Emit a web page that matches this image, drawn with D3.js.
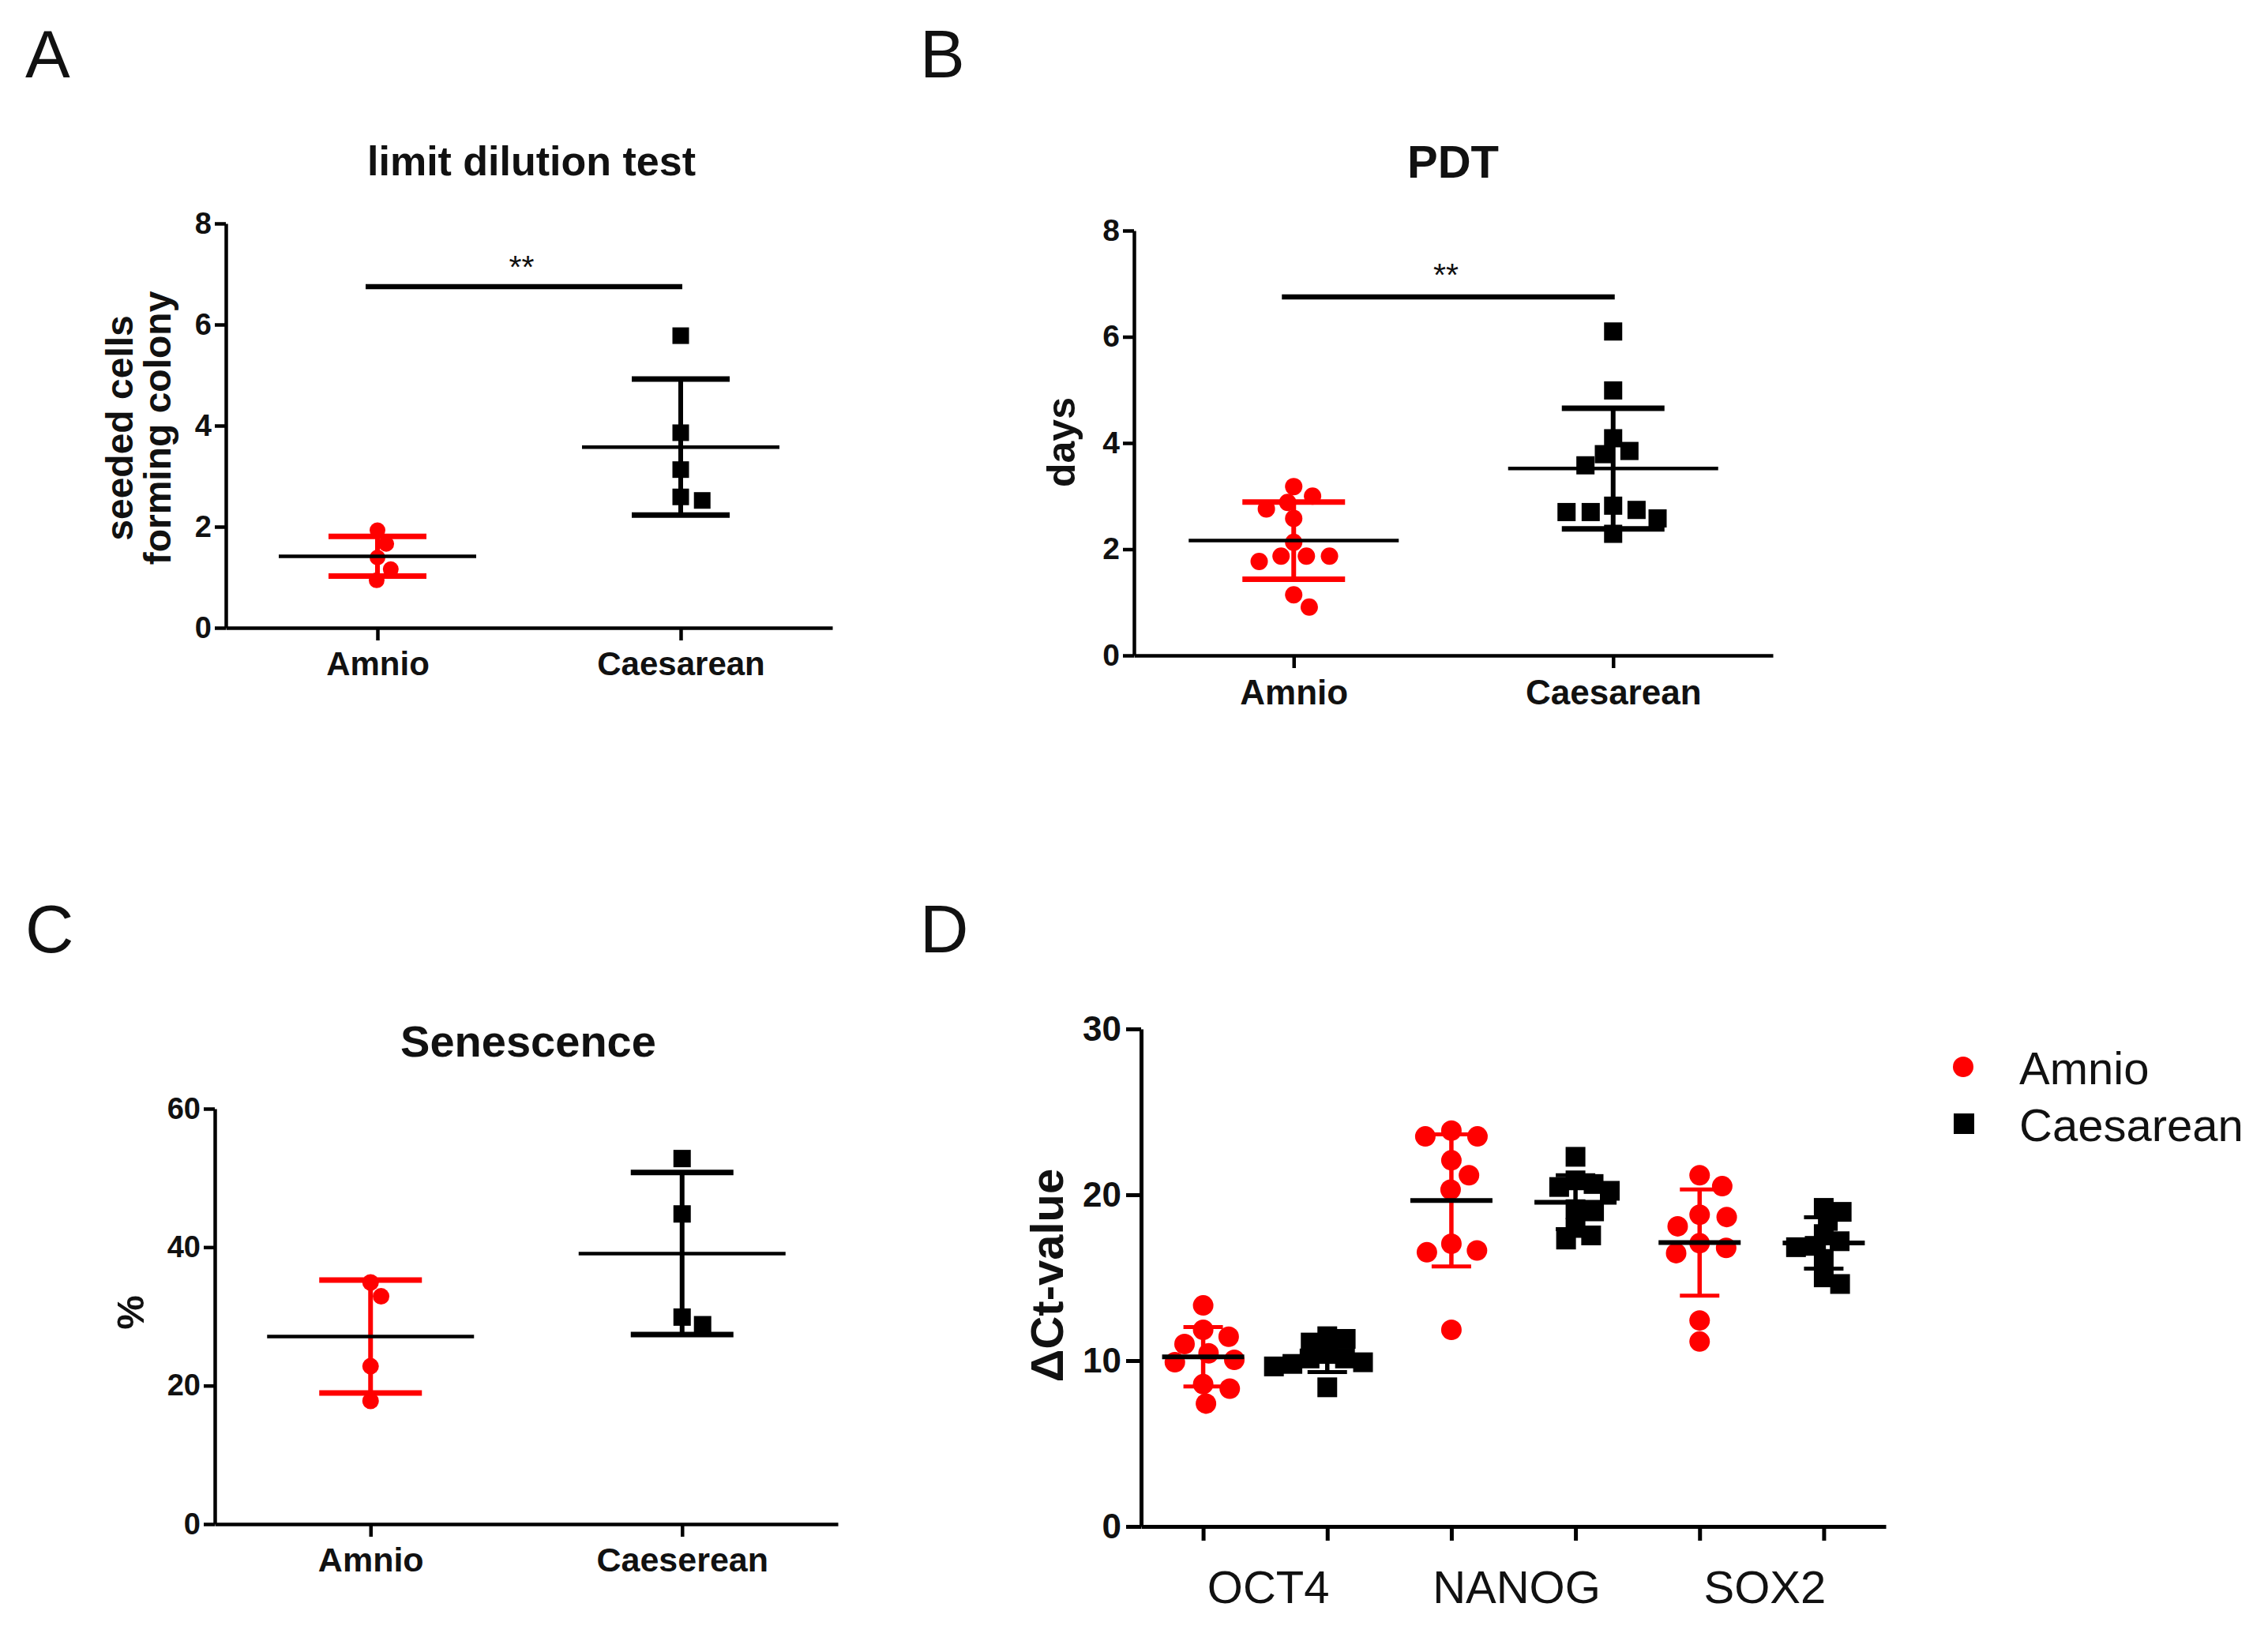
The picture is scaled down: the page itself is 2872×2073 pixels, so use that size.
<!DOCTYPE html>
<html>
<head>
<meta charset="utf-8">
<script src="https://cdn.jsdelivr.net/npm/d3@7"></script>
<style>
  body { margin: 0; background: #fff; }
  svg { display: block; }
  text { font-family: "Liberation Sans", Arial, sans-serif; fill: #111; }
</style>
</head>
<body>
<script>
// values
var groupsA = ["Amnio", "Caesarean"];
var limitAmnio = [1.93, 1.66, 1.39, 1.16, 0.94];
var limitCaes = [5.78, 3.86, 3.13, 2.59, 2.52];

var groupsB = ["Amnio", "Caesarean"];
var pdtAmnio = [3.18, 3.0, 2.88, 2.76, 2.58, 2.13, 1.87, 1.87, 1.87, 1.77, 1.14, 0.91];
var pdtCaes = [6.10, 4.99, 4.09, 3.85, 3.79, 3.58, 2.82, 2.74, 2.70, 2.70, 2.58, 2.29];

var groupsC = ["Amnio", "Caeserean"];
var senAmnio = [34.9, 32.9, 22.8, 17.8];
var senCaes = [52.8, 44.8, 29.9, 28.8];

var genes = ["OCT4", "NANOG", "SOX2"];
var seriesD = ["Amnio", "Caesarean"];
var ctAmnio = [
  [13.33, 11.86, 11.44, 11.0, 10.44, 10.05, 9.9, 8.58, 8.31, 7.41],
  [23.87, 23.52, 23.52, 22.08, 21.18, 20.31, 17.05, 16.64, 16.53, 11.86],
  [21.18, 20.52, 18.8, 18.66, 18.1, 17.08, 16.8, 16.48, 12.42, 11.15]
];
var ctCaes = [
  [11.47, 11.31, 11.09, 10.4, 10.13, 10.13, 9.9, 9.8, 9.65, 8.39],
  [22.29, 20.87, 20.65, 20.47, 20.24, 19.13, 19.0, 18.0, 17.55, 17.3],
  [19.21, 18.97, 18.42, 17.63, 17.2, 16.92, 16.84, 16.13, 15.02, 14.62]
];

var RED = "#ff0000", BLACK = "#000";

var svg = d3.select("body").append("svg").attr("width", 2872).attr("height", 2073);

// beeswarm with a wider horizontal gap, so near-equal values spread out like Prism does
function swarm(values, y, d) {
  var a = d * 1.4, b = d;
  var placed = [], out = [];
  var order = values.map(function (v, i) { return i; })
    .sort(function (p, q) { return values[q] - values[p]; });
  function ok(c, py) {
    return placed.every(function (p) {
      var ex = (p.x - c) / a, ey = (p.y - py) / b;
      return ex * ex + ey * ey >= 0.999;
    });
  }
  order.forEach(function (i) {
    var py = y(values[i]);
    var cands = [0];
    placed.forEach(function (p) {
      var dy = Math.abs(p.y - py);
      if (dy < b) {
        var dx = a * Math.sqrt(1 - (dy / b) * (dy / b));
        cands.push(p.x + dx, p.x - dx);
      }
    });
    cands.sort(function (p, q) { return Math.abs(p) - Math.abs(q); });
    var x = cands.find(function (c) { return ok(c, py); });
    placed.push({ x: x, y: py });
    out[i] = x;
  });
  return out;
}

function drawGroup(g, values, cx, y, o) {
  var offs = swarm(values, y, o.size * (o.spread || 0.95));
  if (o.shape === "circle") {
    g.selectAll(null).data(values).enter().append("circle")
      .attr("cx", function (d, i) { return cx + offs[i]; })
      .attr("cy", function (d) { return y(d); })
      .attr("r", o.size / 2)
      .attr("fill", o.color);
  } else {
    g.selectAll(null).data(values).enter().append("rect")
      .attr("x", function (d, i) { return cx + offs[i] - o.size / 2; })
      .attr("y", function (d) { return y(d) - o.size / 2; })
      .attr("width", o.size).attr("height", o.size)
      .attr("fill", o.color);
  }
  var m = d3.mean(values), sd = d3.deviation(values);
  // error bar (mean +/- SD)
  g.append("line").attr("x1", cx).attr("x2", cx)
    .attr("y1", y(m + sd)).attr("y2", y(m - sd))
    .attr("stroke", o.color).attr("stroke-width", o.barW);
  [m + sd, m - sd].forEach(function (v) {
    g.append("line").attr("x1", cx - o.capHalf).attr("x2", cx + o.capHalf)
      .attr("y1", y(v)).attr("y2", y(v))
      .attr("stroke", o.color).attr("stroke-width", o.capW);
  });
  // mean line
  g.append("line").attr("x1", cx - o.meanHalf).attr("x2", cx + o.meanHalf)
    .attr("y1", y(m)).attr("y2", y(m))
    .attr("stroke", BLACK).attr("stroke-width", o.meanW);
}

function styleAxis(ax, w, font) {
  ax.select(".domain").attr("stroke", BLACK).attr("stroke-width", w);
  ax.selectAll(".tick line").attr("stroke", BLACK).attr("stroke-width", w);
  ax.selectAll(".tick text").attr("font-size", font).attr("font-weight", "bold").attr("fill", "#111");
}

function panelLetter(t, x, y) {
  svg.append("text").attr("x", x).attr("y", y).attr("font-size", 85).text(t);
}

function simplePanel(p) {
  var g = svg.append("g");
  var y = d3.scaleLinear().domain(p.domain).range([p.y0, p.y1]);
  var x = d3.scalePoint().domain(p.cats).range([p.x0, p.x1]).padding(0.5);

  g.append("text").attr("x", p.tx).attr("y", p.ty).attr("text-anchor", "middle")
    .attr("font-size", p.tsize).attr("font-weight", "bold").text(p.title);

  drawGroup(g, p.data[0], x(p.cats[0]), y, Object.assign({ shape: "circle", color: RED, size: p.r * 2 }, p.st));
  drawGroup(g, p.data[1], x(p.cats[1]), y, Object.assign({ shape: "square", color: BLACK, size: p.sq }, p.st));

  var ay = g.append("g").attr("transform", "translate(" + p.x0 + ",0)")
    .call(d3.axisLeft(y).tickValues(p.ticks).tickSize(p.tickY).tickSizeOuter(0).tickPadding(4));
  styleAxis(ay, p.axisW, p.tickFont);
  var ax = g.append("g").attr("transform", "translate(0," + p.y0 + ")")
    .call(d3.axisBottom(x).tickSize(16).tickSizeOuter(0).tickPadding(p.catPad));
  styleAxis(ax, p.axisW, p.catFont);

  p.ylab.forEach(function (t, i) {
    g.append("text").attr("transform", "translate(" + p.ylabX[i] + "," + p.ylabY + ") rotate(-90)")
      .attr("text-anchor", "middle").attr("font-size", p.ylabFont).attr("font-weight", "bold").text(t);
  });

  if (p.sig) {
    var sx0 = x(p.cats[0]) - 15, sx1 = x(p.cats[1]) + 2;
    g.append("line").attr("x1", sx0).attr("x2", sx1)
      .attr("y1", y(p.sig.value)).attr("y2", y(p.sig.value))
      .attr("stroke", BLACK).attr("stroke-width", 6.5);
    g.append("text").attr("x", (sx0 + sx1) / 2 - 3).attr("y", y(p.sig.value) - p.sig.gap)
      .attr("text-anchor", "middle").attr("font-size", 41).text(p.sig.label);
  }
}

var stAC = { meanW: 4.5, capW: 7, barW: 6 };

panelLetter("A", 32, 98);
simplePanel({
  title: "limit dilution test", tx: 673, ty: 222, tsize: 52,
  x0: 286, x1: 1054, y0: 795, y1: 283, domain: [0, 8], ticks: [0, 2, 4, 6, 8],
  cats: groupsA, data: [limitAmnio, limitCaes], r: 10, sq: 21,
  st: Object.assign({ meanHalf: 125, capHalf: 62 }, stAC),
  axisW: 4.5, tickY: 14, tickFont: 38, catFont: 42, catPad: 14,
  ylab: ["seeded cells", "forming colony"], ylabX: [168, 216], ylabY: 542, ylabFont: 48,
  sig: { value: 6.75, label: "**", gap: 11 }
});

panelLetter("B", 1165, 98);
simplePanel({
  title: "PDT", tx: 1840, ty: 225, tsize: 58,
  x0: 1436, x1: 2245, y0: 830, y1: 292, domain: [0, 8], ticks: [0, 2, 4, 6, 8],
  cats: groupsB, data: [pdtAmnio, pdtCaes], r: 11, sq: 23,
  st: Object.assign({ meanHalf: 133, capHalf: 65 }, stAC),
  axisW: 4.5, tickY: 14, tickFont: 39, catFont: 44, catPad: 15,
  ylab: ["days"], ylabX: [1361], ylabY: 560, ylabFont: 50,
  sig: { value: 6.75, label: "**", gap: 14 }
});

panelLetter("C", 32, 1206);
simplePanel({
  title: "Senescence", tx: 669, ty: 1338, tsize: 56,
  x0: 272, x1: 1061, y0: 1930, y1: 1404, domain: [0, 60], ticks: [0, 20, 40, 60],
  cats: groupsC, data: [senAmnio, senCaes], r: 10.5, sq: 22,
  st: Object.assign({ meanHalf: 131, capHalf: 65 }, stAC),
  axisW: 4.5, tickY: 14, tickFont: 38, catFont: 43, catPad: 13,
  ylab: ["%"], ylabX: [182], ylabY: 1662, ylabFont: 49
});

// panel D: grouped scatter
panelLetter("D", 1165, 1206);
(function () {
  var g = svg.append("g");
  var x0 = 1445, x1 = 2388, y0 = 1933, y1 = 1303;
  var keys = [];
  genes.forEach(function (gn) { seriesD.forEach(function (s) { keys.push(gn + " " + s); }); });
  var x = d3.scalePoint().domain(keys).range([x0, x1]).padding(0.5);
  var y = d3.scaleLinear().domain([0, 30]).range([y0, y1]);
  var st = { meanHalf: 52, capHalf: 25, meanW: 6, capW: 5, barW: 5.5 };

  genes.forEach(function (gn, i) {
    drawGroup(g, ctAmnio[i], x(gn + " Amnio"), y, Object.assign({ shape: "circle", color: RED, size: 26 }, st));
    drawGroup(g, ctCaes[i], x(gn + " Caesarean"), y, Object.assign({ shape: "square", color: BLACK, size: 25, spread: 0.68 }, st));
    var cx = (x(gn + " Amnio") + x(gn + " Caesarean")) / 2;
    g.append("text").attr("x", cx + 4).attr("y", 2030).attr("text-anchor", "middle")
      .attr("font-size", 58).text(gn);
  });

  var ay = g.append("g").attr("transform", "translate(" + x0 + ",0)")
    .call(d3.axisLeft(y).tickValues([0, 10, 20, 30]).tickSize(19).tickSizeOuter(0).tickPadding(6));
  styleAxis(ay, 5, 44);
  var ax = g.append("g").attr("transform", "translate(0," + y0 + ")")
    .call(d3.axisBottom(x).tickSize(18).tickSizeOuter(0).tickFormat(""));
  styleAxis(ax, 5, 10);

  g.append("text").attr("transform", "translate(1346,1615) rotate(-90)")
    .attr("text-anchor", "middle").attr("font-size", 58).attr("font-weight", "bold").text("\u0394Ct-value");

  // legend
  var lg = g.append("g");
  seriesD.forEach(function (s, i) {
    var ly = 1351 + i * 72;
    if (i === 0) {
      lg.append("circle").attr("cx", 2486).attr("cy", ly).attr("r", 13).attr("fill", RED);
    } else {
      lg.append("rect").attr("x", 2474).attr("y", ly - 13).attr("width", 26).attr("height", 26).attr("fill", BLACK);
    }
    lg.append("text").attr("x", 2557).attr("y", ly + 22).attr("font-size", 58).text(s);
  });
})();
</script>
</body>
</html>
